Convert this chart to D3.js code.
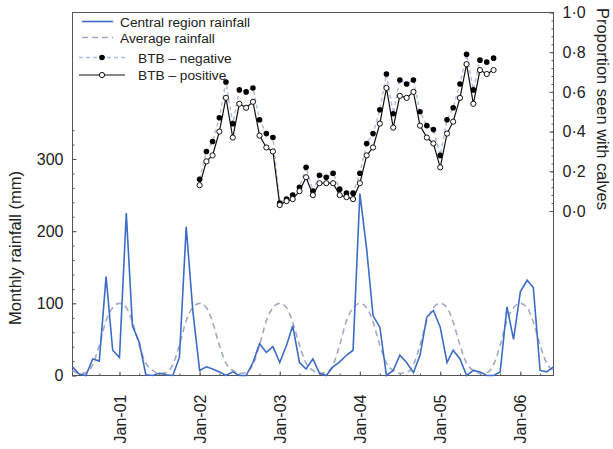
<!DOCTYPE html>
<html>
<head>
<meta charset="utf-8">
<script src="https://cdn.jsdelivr.net/npm/d3@7"></script>
<style>
  html, body { margin: 0; padding: 0; background: #fff; }
  svg { display: block; font-family: "Liberation Sans", Arial, sans-serif; }
</style>
</head>
<body>
<svg id="chart" width="613" height="449"></svg>
<script>
// ---------- DATA ----------
// Monthly rainfall, central region (mm), Jun 2000 .. Jun 2006
const rainStart = [2000, 5]; // year, month index (June)
const rainfall = [12, 2, 0, 23, 20, 137, 35, 25, 225, 69, 46, 1,
                  0, 3, 1, 0, 25, 206, 90, 7, 12, 9, 5, 0,
                  5, 0, 0, 18, 44, 32, 40, 18, 42, 69, 18, 9,
                  23, 3, 0, 12, 19, 28, 35, 252, 175, 83, 67, 0,
                  7, 28, 18, 4, 28, 81, 90, 67, 18, 35, 23, 0,
                  7, 5, 0, 0, 5, 95, 50, 116, 132, 122, 7, 5, 12];
// Long-term average rainfall by calendar month (Jan..Dec), mm
const avgMonthNames = ["Jan","Feb","Mar","Apr","May","Jun","Jul","Aug","Sep","Oct","Nov","Dec"];
const avgRainfall = [100, 94, 74, 42, 17, 7, 3, 4, 15, 42, 76, 94];
// Proportion seen with calves, Jan 2002 .. Sep 2005
const btbStart = [2002, 0];
const btbNegative = [0.16, 0.30, 0.35, 0.47, 0.65, 0.44, 0.61, 0.60, 0.62, 0.46, 0.39, 0.37,
                     0.04, 0.06, 0.08, 0.12, 0.22, 0.10, 0.18, 0.17, 0.19, 0.11, 0.09, 0.09,
                     0.19, 0.34, 0.39, 0.51, 0.69, 0.49, 0.66, 0.64, 0.66, 0.50, 0.43, 0.41,
                     0.28, 0.46, 0.52, 0.64, 0.79, 0.61, 0.76, 0.75, 0.77];
const btbPositive = [0.13, 0.25, 0.28, 0.40, 0.57, 0.37, 0.54, 0.52, 0.55, 0.38, 0.32, 0.30,
                     0.03, 0.05, 0.06, 0.10, 0.17, 0.08, 0.14, 0.14, 0.14, 0.08, 0.07, 0.06,
                     0.14, 0.28, 0.32, 0.44, 0.62, 0.42, 0.58, 0.57, 0.60, 0.43, 0.37, 0.34,
                     0.22, 0.39, 0.45, 0.57, 0.74, 0.54, 0.71, 0.69, 0.71];
const leftTicks = [0, 100, 200, 300];
const rightTicks = [0, 0.2, 0.4, 0.6, 0.8, 1.0];
const xTickYears = [2001, 2002, 2003, 2004, 2005, 2006];
const legendLabels = ["Central region rainfall", "Average rainfall", "BTB \u2013 negative", "BTB \u2013 positive"];

// ---------- LAYOUT ----------
const L = 72.5, R = 553.5, T = 12.5, B = 375.5;
const svg = d3.select("#chart");

const monthDate = (start, i) => new Date(start[0], start[1] + i, 1);
const rainData = rainfall.map((v, i) => ({ d: monthDate(rainStart, i), v }));
const avgData = rainfall.map((_, i) => {
  const d = monthDate(rainStart, i);
  return { d, v: avgRainfall[d.getMonth()] };
});
const negData = btbNegative.map((v, i) => ({ d: monthDate(btbStart, i), v }));
const posData = btbPositive.map((v, i) => ({ d: monthDate(btbStart, i), v }));

const x = d3.scaleTime()
  .domain([new Date(2000, 5, 1), new Date(2006, 5, 1)])
  .range([L, R]);
const yL = d3.scaleLinear().domain([0, 503]).range([B, T]);
const yR = d3.scaleLinear().domain([0, 1]).range([211, T]);

const textCol = "#222";
const axisCol = "#555";

// frame
svg.append("rect").attr("x", L).attr("y", T).attr("width", R - L).attr("height", B - T)
  .attr("fill", "none").attr("stroke", axisCol).attr("stroke-width", 1);

// ---------- AXES ----------
// left axis
const gl = svg.append("g").attr("transform", `translate(${L},0)`);
gl.call(d3.axisLeft(yL).tickValues(d3.range(0, 341, 20)).tickSize(-2).tickFormat(""))
  .call(g => g.select(".domain").remove());
gl.append("g").call(d3.axisLeft(yL).tickValues(leftTicks).tickSize(-4).tickPadding(9))
  .call(g => g.select(".domain").remove())
  .call(g => g.selectAll("text").attr("font-size", 16).attr("fill", textCol).attr("font-family", "Liberation Sans, Arial, sans-serif"));
gl.selectAll("line").attr("stroke", axisCol);

// right axis
const gr = svg.append("g").attr("transform", `translate(${R},0)`);
gr.call(d3.axisRight(yR).tickValues(d3.range(0, 1.001, 0.04)).tickSize(-2).tickFormat(""))
  .call(g => g.select(".domain").remove());
gr.append("g").call(d3.axisRight(yR).tickValues(rightTicks).tickSize(-4).tickPadding(9)
    .tickFormat(d => d3.format(".1f")(d).replace(".", "\u00B7")))
  .call(g => g.select(".domain").remove())
  .call(g => g.selectAll("text").attr("font-size", 16).attr("fill", textCol).attr("font-family", "Liberation Sans, Arial, sans-serif"));
gr.selectAll("line").attr("stroke", axisCol);

// bottom axis
const gb = svg.append("g").attr("transform", `translate(0,${B})`);
const quarterTicks = d3.timeMonth.every(3).range(new Date(2000, 6, 1), new Date(2006, 5, 2));
gb.call(d3.axisBottom(x).tickValues(quarterTicks).tickSize(-2).tickFormat(""))
  .call(g => g.select(".domain").remove());
const janTicks = xTickYears.map(y => new Date(y, 0, 1));
gb.append("g").call(d3.axisBottom(x).tickValues(janTicks).tickSize(-4).tickFormat(d3.timeFormat("%b-%y")))
  .call(g => g.select(".domain").remove())
  .call(g => g.selectAll("text")
    .attr("font-size", 16).attr("fill", textCol).attr("font-family", "Liberation Sans, Arial, sans-serif")
    .attr("transform", "rotate(-90)")
    .attr("text-anchor", "end")
    .attr("x", -19).attr("y", 0).attr("dy", "0.35em"));
gb.selectAll("line").attr("stroke", axisCol);

// axis titles
svg.append("text").attr("transform", "translate(21,248) rotate(-90)")
  .attr("text-anchor", "middle").attr("font-size", 16.5).attr("fill", textCol)
  .text("Monthly rainfall (mm)");
svg.append("text").attr("transform", "translate(597,109) rotate(90)")
  .attr("text-anchor", "middle").attr("font-size", 16.5).attr("fill", textCol)
  .text("Proportion seen with calves");

// ---------- SERIES ----------
const rainBlue = "#3d6cc5";
const avgCol = "#a3a9c4";
const negLineCol = "#b3bddd";

svg.append("path").datum(avgData)
  .attr("fill", "none").attr("stroke", avgCol).attr("stroke-width", 1.6)
  .attr("stroke-dasharray", "6,4")
  .attr("d", d3.line().x(d => x(d.d)).y(d => yL(d.v)).curve(d3.curveMonotoneX));

svg.append("path").datum(rainData)
  .attr("fill", "none").attr("stroke", rainBlue).attr("stroke-width", 1.6)
  .attr("d", d3.line().x(d => x(d.d)).y(d => yL(d.v)));

svg.append("path").datum(negData)
  .attr("fill", "none").attr("stroke", negLineCol).attr("stroke-width", 1.5)
  .attr("stroke-dasharray", "4,3")
  .attr("d", d3.line().x(d => x(d.d)).y(d => yR(d.v)));
svg.append("path").datum(posData)
  .attr("fill", "none").attr("stroke", "#111").attr("stroke-width", 1.2)
  .attr("d", d3.line().x(d => x(d.d)).y(d => yR(d.v)));

svg.append("g").selectAll("circle").data(negData).join("circle")
  .attr("cx", d => x(d.d)).attr("cy", d => yR(d.v)).attr("r", 2.8)
  .attr("fill", "#000");
svg.append("g").selectAll("circle").data(posData).join("circle")
  .attr("cx", d => x(d.d)).attr("cy", d => yR(d.v)).attr("r", 2.6)
  .attr("fill", "#fff").attr("stroke", "#111").attr("stroke-width", 1);

// ---------- LEGEND ----------
const lg = svg.append("g").attr("font-size", 13.7).attr("fill", textCol);
// row 1
lg.append("line").attr("x1", 82).attr("x2", 113).attr("y1", 21.5).attr("y2", 21.5)
  .attr("stroke", rainBlue).attr("stroke-width", 1.6);
lg.append("text").attr("x", 120).attr("y", 22).attr("dy", "0.35em").text(legendLabels[0]);
// row 2
lg.append("line").attr("x1", 82).attr("x2", 113).attr("y1", 37.5).attr("y2", 37.5)
  .attr("stroke", avgCol).attr("stroke-width", 1.6).attr("stroke-dasharray", "6,4");
lg.append("text").attr("x", 120).attr("y", 38).attr("dy", "0.35em").text(legendLabels[1]);
// row 3
lg.append("line").attr("x1", 79).attr("x2", 125).attr("y1", 57.5).attr("y2", 57.5)
  .attr("stroke", negLineCol).attr("stroke-width", 1.5).attr("stroke-dasharray", "4,3");
lg.append("circle").attr("cx", 102).attr("cy", 57.5).attr("r", 2.8).attr("fill", "#000");
lg.append("text").attr("x", 138).attr("y", 58).attr("dy", "0.35em").text(legendLabels[2]);
// row 4
lg.append("line").attr("x1", 79).attr("x2", 125).attr("y1", 75).attr("y2", 75)
  .attr("stroke", "#111").attr("stroke-width", 1.2);
lg.append("circle").attr("cx", 102).attr("cy", 75).attr("r", 2.6)
  .attr("fill", "#fff").attr("stroke", "#111").attr("stroke-width", 1);
lg.append("text").attr("x", 138).attr("y", 75).attr("dy", "0.35em").text(legendLabels[3]);
</script>
</body>
</html>
